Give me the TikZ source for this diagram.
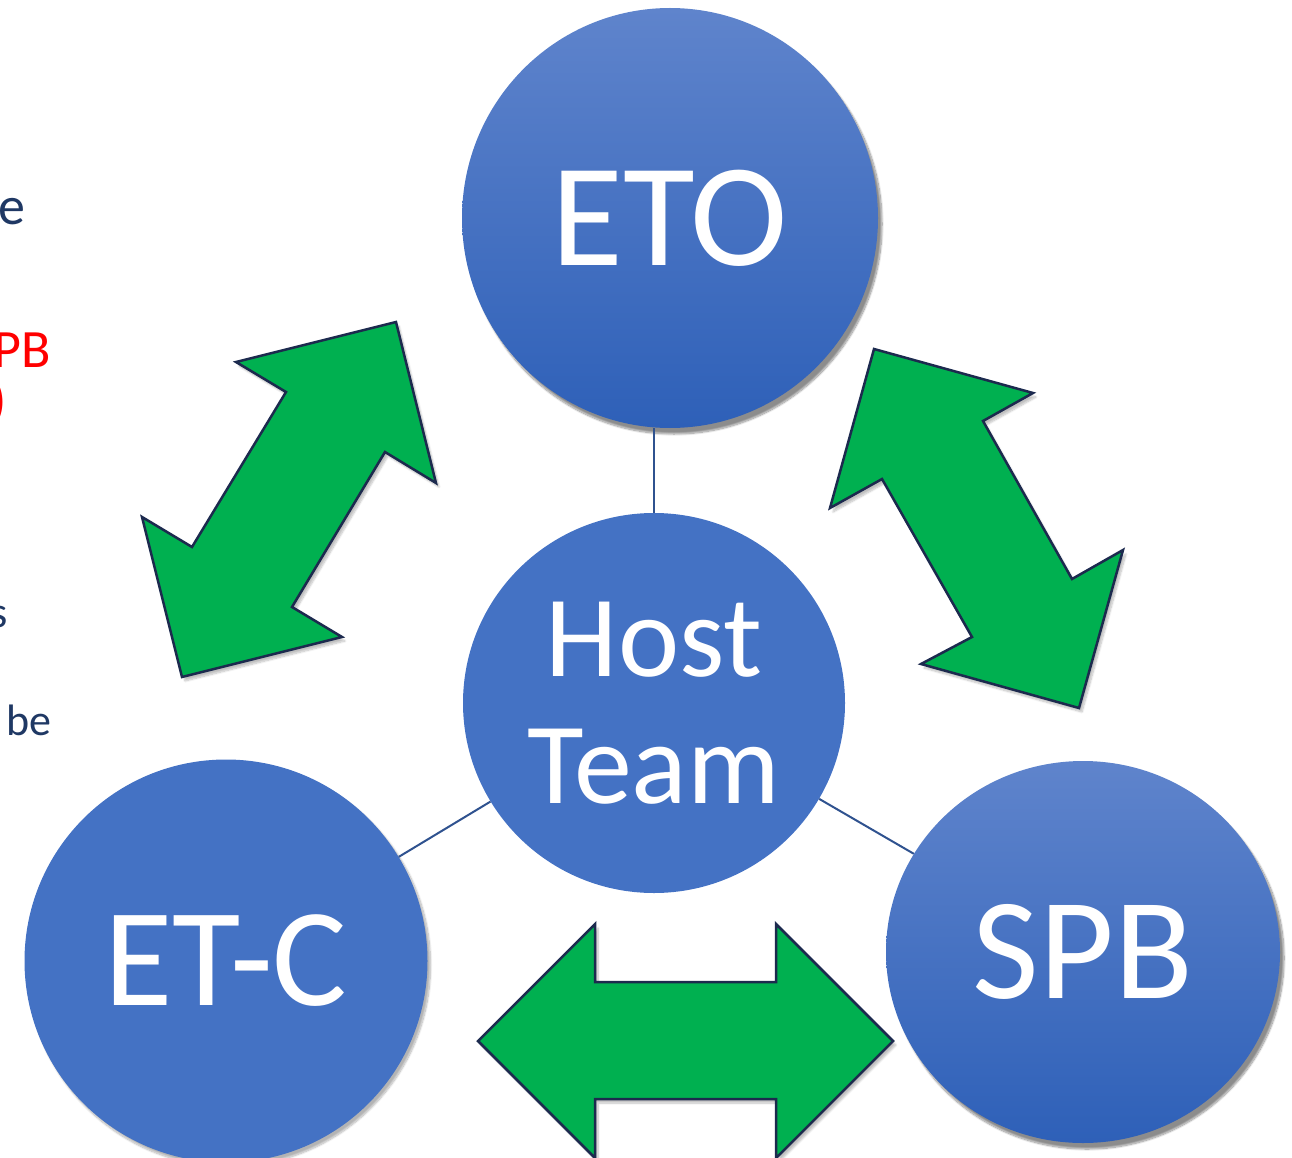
\documentclass[tikz,border=0pt]{standalone}
\usepackage{fontspec}
\setmainfont{Carlito}
\usetikzlibrary{shapes.geometric,shadows.blur}

\definecolor{circblue}{HTML}{4472C4}
\definecolor{circtop}{HTML}{5F84CC}
\definecolor{circbot}{HTML}{2E60B8}
\definecolor{arrowgreen}{HTML}{00B050}
\definecolor{arrowedge}{HTML}{1C2A4E}
\definecolor{linkblue}{HTML}{2F528F}
\definecolor{navytext}{HTML}{1F3864}
\definecolor{redtext}{HTML}{FF0000}

\tikzset{
  team/.style={ellipse, inner sep=0pt, text=white, align=center},
  flatteam/.style={team, fill=circblue},
  shadedteam/.style={team, top color=circtop, bottom color=circbot,
    blur shadow={shadow xshift=4pt, shadow yshift=-6pt, shadow blur steps=12, shadow opacity=45}},
  link/.style={draw=linkblue, line width=2pt},
  bigarrow/.style={fill=arrowgreen, draw=arrowedge, line width=2.5pt, line join=miter,
    blur shadow={shadow xshift=3pt, shadow yshift=-4pt, shadow blur steps=8, shadow opacity=25}},
  sidetext/.style={inner sep=0pt, font=\fontsize{54}{54}\selectfont},
  smallside/.style={inner sep=0pt, font=\fontsize{44}{44}\selectfont}
}

\begin{document}
\begin{tikzpicture}[x=1pt, y=-1pt]
\useasboundingbox (0,0) rectangle (1292,1158);
\clip (0,0) rectangle (1292,1158);

% text running in from the left edge
\node[sidetext, text=navytext, anchor=base east] (t1) at (26,225) {e};
\node[sidetext, text=redtext, anchor=base east] (t2) at (51,367) {PB};
\node[sidetext, text=redtext, anchor=base east] (t3) at (7,418) {)};
\node[smallside, text=navytext, anchor=base east] (t4) at (8,627) {s};
\node[smallside, text=navytext, anchor=base east] (t5) at (52,735) {be};

% two-headed block arrows
\draw[bigarrow] (396,322) -- (436,483) -- (385,452) -- (292,607) -- (342,637)
  -- (182,677) -- (142,517) -- (192,547) -- (286,392) -- (236,362) -- cycle;
\draw[bigarrow] (874,349) -- (1033,393) -- (983,421) -- (1072,579) -- (1123,550)
  -- (1079,708) -- (921,664) -- (972,637) -- (882,479) -- (830,508) -- cycle;
\draw[bigarrow] (478,1041) -- (595,924) -- (595,982) -- (776,982) -- (776,924)
  -- (893,1041) -- (776,1158) -- (776,1099) -- (595,1099) -- (595,1158) -- cycle;

% team circles
\node[shadedteam, minimum width=416pt, minimum height=420pt,
  font=\fontsize{147}{147}\selectfont] (eto) at (670,218) {ETO};
\node[flatteam, minimum width=382pt, minimum height=380pt,
  font=\fontsize{116}{127}\selectfont] (host) at (654,703) {Host\\Team};
\node[flatteam, minimum width=403pt, minimum height=403pt,
  font=\fontsize{140}{140}\selectfont,
  blur shadow={shadow xshift=3pt, shadow yshift=-4pt, shadow blur steps=10, shadow opacity=30}]
  (etc) at (226,961) {ET-C};
\node[shadedteam, minimum width=394pt, minimum height=382pt,
  font=\fontsize{145}{145}\selectfont] (spb) at (1083,952) {SPB};

% links from the host team
\draw[link] (host.north) -- (host.north |- eto.south);
\draw[link] (host) -- (etc);
\draw[link] (host) -- (spb);
\end{tikzpicture}
\end{document}
